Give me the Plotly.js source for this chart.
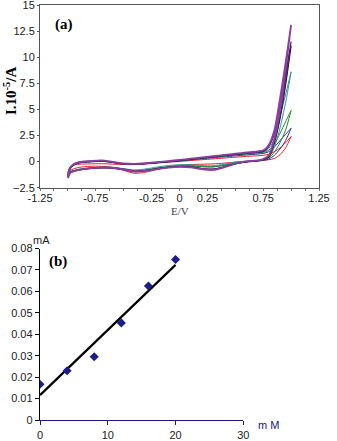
<!DOCTYPE html>
<html>
<head>
<meta charset="utf-8">
<script src="https://cdn.plot.ly/plotly-3.0.1.min.js"></script>
<style>
  html, body { margin: 0; padding: 0; background: #fff; }
  #chart { width: 337px; height: 441px; }
</style>
</head>
<body>
<div id="chart"></div>
<script>
// (a) cyclic voltammograms: potential grid for the forward and reverse sweeps
const eForward = [-1.0, -0.98, -0.95, -0.9, -0.8, -0.7, -0.6, -0.5, -0.4, -0.3, -0.2, -0.1, 0.0, 0.1, 0.2, 0.3, 0.4, 0.5, 0.6, 0.7, 0.75, 0.8, 0.85, 0.9, 0.95, 1.0];
const eReverse = [1.0, 0.95, 0.9, 0.85, 0.8, 0.75, 0.7, 0.6, 0.5, 0.4, 0.3, 0.2, 0.1, 0.0, -0.1, -0.2, -0.3, -0.4, -0.5, -0.6, -0.7, -0.8, -0.9, -0.95, -0.98, -1.0];

// currents (x10^-5 A)
const redF = [-1.0, -0.5, -0.3, -0.25, -0.22, -0.2, -0.24, -0.28, -0.28, -0.22, -0.14, -0.06, 0.02, 0.1, 0.18, 0.26, 0.34, 0.42, 0.5, 0.56, 0.6, 0.7, 0.95, 1.3, 1.8, 2.4];
const redR = [2.4, 1.3, 0.65, 0.3, 0.18, 0.12, 0.08, 0.02, -0.05, -0.15, -0.22, -0.25, -0.28, -0.35, -0.5, -0.75, -1.0, -1.12, -0.85, -0.55, -0.45, -0.45, -0.55, -0.7, -0.85, -1.1];
const blueF = [-1.2, -0.6, -0.3, -0.1, 0.0, 0.05, -0.08, -0.22, -0.25, -0.19, -0.1, -0.02, 0.07, 0.17, 0.27, 0.37, 0.46, 0.55, 0.64, 0.72, 0.78, 0.95, 1.4, 2.0, 2.6, 3.2];
const blueR = [3.2, 2.0, 1.2, 0.6, 0.25, 0.12, 0.05, -0.05, -0.15, -0.35, -0.5, -0.48, -0.4, -0.42, -0.5, -0.64, -0.82, -0.9, -0.74, -0.6, -0.58, -0.64, -0.78, -0.9, -1.02, -1.35];
const greenF = [-1.2, -0.6, -0.3, -0.08, 0.03, 0.1, -0.04, -0.2, -0.23, -0.17, -0.08, 0.01, 0.1, 0.2, 0.31, 0.42, 0.52, 0.62, 0.72, 0.8, 0.86, 1.1, 1.7, 2.7, 3.8, 4.9];
const greenR = [4.9, 3.0, 1.8, 0.9, 0.35, 0.15, 0.08, 0.0, -0.12, -0.35, -0.5, -0.48, -0.4, -0.4, -0.48, -0.62, -0.8, -0.88, -0.72, -0.58, -0.56, -0.62, -0.76, -0.88, -1.0, -1.3];
const tealF = [-1.1, -0.5, -0.25, -0.05, 0.05, 0.1, -0.05, -0.2, -0.22, -0.16, -0.07, 0.02, 0.12, 0.23, 0.34, 0.45, 0.55, 0.65, 0.75, 0.84, 0.9, 1.25, 2.2, 4.3, 6.4, 8.6];
const tealR = [8.6, 5.6, 3.2, 1.4, 0.4, 0.18, 0.1, 0.05, -0.05, -0.25, -0.4, -0.38, -0.3, -0.3, -0.38, -0.52, -0.7, -0.8, -0.68, -0.55, -0.55, -0.6, -0.72, -0.85, -0.95, -1.2];
const blackF = [-1.4, -0.7, -0.35, -0.12, -0.02, 0.05, -0.08, -0.22, -0.26, -0.2, -0.1, 0.0, 0.1, 0.22, 0.34, 0.46, 0.57, 0.68, 0.79, 0.9, 0.97, 1.45, 2.7, 5.2, 8.0, 11.1];
const blackR = [11.1, 7.3, 4.1, 1.8, 0.45, 0.18, 0.08, -0.02, -0.22, -0.5, -0.72, -0.66, -0.5, -0.47, -0.55, -0.68, -0.85, -0.95, -0.78, -0.62, -0.6, -0.66, -0.8, -0.92, -1.05, -1.5];
const violetF = [-1.3, -0.6, -0.3, -0.08, 0.02, 0.08, -0.05, -0.2, -0.24, -0.17, -0.07, 0.03, 0.13, 0.25, 0.37, 0.49, 0.6, 0.72, 0.83, 0.93, 1.0, 1.5, 2.8, 5.4, 8.4, 11.5];
const violetR = [11.5, 7.6, 4.3, 1.9, 0.5, 0.22, 0.1, 0.0, -0.2, -0.5, -0.75, -0.68, -0.52, -0.48, -0.56, -0.7, -0.86, -0.92, -0.72, -0.58, -0.56, -0.62, -0.78, -0.9, -1.05, -1.4];
const purpleF = [-1.5, -0.6, -0.25, -0.05, 0.05, 0.12, -0.02, -0.18, -0.22, -0.15, -0.05, 0.05, 0.16, 0.28, 0.4, 0.52, 0.64, 0.76, 0.87, 0.98, 1.08, 1.6, 3.0, 6.0, 9.4, 13.1];
const purpleR = [13.1, 8.8, 5.0, 2.2, 0.6, 0.25, 0.12, 0.02, -0.2, -0.55, -0.8, -0.72, -0.55, -0.5, -0.58, -0.72, -0.88, -0.95, -0.75, -0.6, -0.58, -0.65, -0.8, -0.95, -1.1, -1.6];

// (b) calibration
const concMM = [0, 4, 8, 12, 16, 20];
const currentMA = [0.0167, 0.0230, 0.0295, 0.0453, 0.0625, 0.0749];

const xTickVals = [-1.25, -0.75, -0.25, 0, 0.25, 0.75, 1.25];
const xTickText = ["-1.25", "-0.75", "-0.25", "0", "0.25", "0.75", "1.25"];

function cv(f, r, color, width) {
    return {
        x: eForward.concat(eReverse), y: f.concat(r),
        xaxis: "x", yaxis: "y",
        mode: "lines", type: "scatter",
        line: {color: color, width: width, shape: "spline", smoothing: 0.8},
        hoverinfo: "skip"
    };
}

// least squares line through the calibration points
const n = concMM.length;
const mx = concMM.reduce((a, b) => a + b, 0) / n;
const my = currentMA.reduce((a, b) => a + b, 0) / n;
let sxy = 0, sxx = 0;
for (let i = 0; i < n; i++) {
    sxy += (concMM[i] - mx) * (currentMA[i] - my);
    sxx += (concMM[i] - mx) ** 2;
}
const slope = sxy / sxx;
const icpt = my - slope * mx;
const fitX = [concMM[0], concMM[n - 1]];
const fitY = fitX.map(v => icpt + slope * v);

const plotData = [
    cv(redF, redR, "#e8202a", 1),
    cv(blueF, blueR, "#2a2a9c", 1),
    cv(greenF, greenR, "#1f8a32", 1),
    cv(tealF, tealR, "#2f9590", 1),
    cv(blackF, blackR, "#111122", 1.2),
    cv(violetF, violetR, "#5a2370", 1.2),
    cv(purpleF, purpleR, "#8b3fa0", 1.8),
    {
        x: fitX, y: fitY, xaxis: "x2", yaxis: "y2",
        mode: "lines", type: "scatter",
        line: {color: "#000", width: 2.2}, hoverinfo: "skip"
    },
    {
        x: concMM, y: currentMA, xaxis: "x2", yaxis: "y2",
        mode: "markers", type: "scatter",
        marker: {symbol: "diamond", size: 7, color: "#1c1c8a"}, hoverinfo: "skip"
    }
];

const tickFont = {family: "Liberation Sans, Arial, sans-serif", size: 11, color: "#222"};
const serif = "Liberation Serif, Times New Roman, serif";

function note(text, px, py, font, extra) {
    return Object.assign({
        text: text, xref: "paper", yref: "paper",
        x: px / 337, y: 1 - py / 441, xanchor: "center", yanchor: "middle",
        showarrow: false, font: font
    }, extra || {});
}

const layout = {
    width: 337, height: 441,
    margin: {t: 0, r: 0, b: 0, l: 0},
    paper_bgcolor: "#fff", plot_bgcolor: "#fff",
    showlegend: false,
    xaxis: {
        domain: [40 / 337, 319 / 337], range: [-1.25, 1.25],
        tickvals: xTickVals, ticktext: xTickText,
        ticks: "", ticklabelstandoff: 0,
        minor: {dtick: 0.125, ticks: "outside", ticklen: 2, tickcolor: "#777"},
        showline: true, linecolor: "#555", mirror: true,
        showgrid: false, zeroline: false, tickfont: tickFont
    },
    yaxis: {
        domain: [1 - 187.7 / 441, 1 - 5 / 441], range: [-2.5, 15],
        dtick: 2.5, ticks: "outside", ticklen: 2, tickcolor: "#555",
        ticklabeloverflow: "allow",
        showline: true, linecolor: "#555", mirror: true,
        showgrid: false, zeroline: false, tickfont: tickFont
    },
    xaxis2: {
        anchor: "y2",
        domain: [40 / 337, 243.3 / 337], range: [0, 30], dtick: 10,
        ticks: "outside", ticklen: 4, tickcolor: "#1a1a80", ticklabelstandoff: 1,
        showline: true, linecolor: "#1a1a80", linewidth: 1.2,
        showgrid: false, zeroline: false, tickfont: tickFont
    },
    yaxis2: {
        anchor: "x2",
        domain: [1 - 420 / 441, 1 - 248.5 / 441], range: [0, 0.08], dtick: 0.01,
        ticks: "outside", ticklen: 4, tickcolor: "#000",
        showline: true, linecolor: "#000", linewidth: 1.2,
        showgrid: false, zeroline: false, tickfont: tickFont
    },
    annotations: [
        note("<b>(a)</b>", 64, 25, {family: serif, size: 15, color: "#000"}),
        note("<b>I.10<sup>-5</sup>/A</b>", 10, 91, {family: serif, size: 15, color: "#000"}, {textangle: -90}),
        note("E/V", 180, 211, {family: serif, size: 11, color: "#444"}),
        note("<b>(b)</b>", 58, 261, {family: serif, size: 15, color: "#000"}),
        note("mA", 41, 240, {family: "Liberation Sans, Arial, sans-serif", size: 11, color: "#222"}),
        note("m M", 268, 425, {family: "Liberation Sans, Arial, sans-serif", size: 11, color: "#1a1a80"})
    ]
};

Plotly.newPlot("chart", plotData, layout, {staticPlot: true, displayModeBar: false});
</script>
</body>
</html>
